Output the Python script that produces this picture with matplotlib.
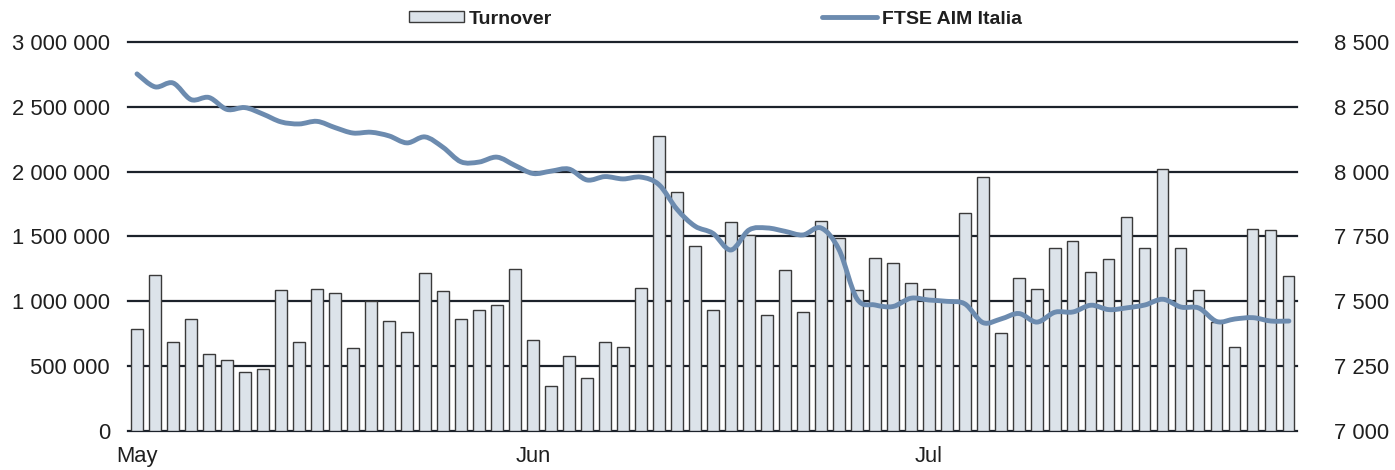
import matplotlib
matplotlib.use("Agg")
import matplotlib.pyplot as plt
from matplotlib.ticker import FuncFormatter
from matplotlib.path import Path
from matplotlib.patches import PathPatch
from matplotlib.lines import Line2D

# ---------------- data ----------------
turnover = [785, 1205, 690, 865, 590, 550, 455, 480, 1090, 685,
            1095, 1064, 640, 1003, 848, 763, 1218, 1080, 864, 933,
            972, 1249, 702, 347, 578, 409, 686, 648, 1103, 2275,
            1843, 1427, 933, 1612, 1515, 895, 1242, 918, 1620, 1488,
            1087, 1334, 1296, 1141, 1095, 1012, 1681, 1959, 756, 1180,
            1095, 1411, 1465, 1226, 1326, 1650, 1411, 2020, 1411, 1087,
            840, 648, 1558, 1550, 1195]
turnover = [v * 1000 for v in turnover]

ftse_aim = [8377, 8327, 8342, 8278, 8286, 8240, 8247, 8222, 8192, 8184,
            8194, 8170, 8149, 8152, 8138, 8111, 8134, 8094, 8038, 8037,
            8056, 8024, 7993, 8002, 8010, 7968, 7981, 7972, 7979, 7950,
            7855, 7790, 7762, 7698, 7775, 7783, 7770, 7756, 7783, 7700,
            7510, 7486, 7480, 7512, 7505, 7500, 7490, 7418, 7432, 7453,
            7420, 7458, 7459, 7485, 7468, 7475, 7486, 7508, 7478, 7474,
            7422, 7432, 7437, 7424, 7424]

month_labels = ["May", "Jun", "Jul"]
month_positions = [0, 22, 44]

left_ticks = [0, 500000, 1000000, 1500000, 2000000, 2500000, 3000000]
right_ticks = [7000, 7250, 7500, 7750, 8000, 8250, 8500]

# ---------------- style ----------------
FONT = ["Liberation Sans", "DejaVu Sans"]
plt.rcParams["font.family"] = FONT
TXT = "#1f1f1f"
BAR_FILL = "#DCE3EA"
BAR_EDGE = "#3a3a3a"
LINE_COL = "#6C8BAF"
GRID_COL = "#1c222b"

W, H = 1395, 470
fig = plt.figure(figsize=(W / 100, H / 100), dpi=100)
ax = fig.add_axes([128 / W, (H - 431) / H, (1297 - 128) / W, (431 - 42) / H])
ax2 = ax.twinx()

x = list(range(len(turnover)))
bars = ax.bar(x, turnover, width=0.62, color=BAR_FILL, edgecolor=BAR_EDGE,
              linewidth=1.0, zorder=2, label="Turnover")

# smoothed line (Excel-like): cubic Bezier segments through every data point
n = len(ftse_aim)
verts = [(x[0], ftse_aim[0])]
codes = [Path.MOVETO]
for i in range(n - 1):
    xp, yp = (x[i - 1], ftse_aim[i - 1]) if i > 0 else (x[i], ftse_aim[i])
    xn2, yn2 = (x[i + 2], ftse_aim[i + 2]) if i + 2 < n else (x[i + 1], ftse_aim[i + 1])
    c1 = (x[i] + (x[i + 1] - xp) / 6.0, ftse_aim[i] + (ftse_aim[i + 1] - yp) / 6.0)
    c2 = (x[i + 1] - (xn2 - x[i]) / 6.0, ftse_aim[i + 1] - (yn2 - ftse_aim[i]) / 6.0)
    verts += [c1, c2, (x[i + 1], ftse_aim[i + 1])]
    codes += [Path.CURVE4, Path.CURVE4, Path.CURVE4]
ax2.add_patch(PathPatch(Path(verts, codes), facecolor="none", edgecolor=LINE_COL,
                        linewidth=3.5, joinstyle="round", capstyle="round", zorder=3))
line_handle = Line2D([], [], color=LINE_COL, linewidth=3.5, solid_capstyle="round")

ax.set_xlim(-0.5, len(turnover) - 0.55)
ax.set_ylim(0, 3000000)
ax2.set_ylim(7000, 8500)

ax.set_yticks(left_ticks)
ax2.set_yticks(right_ticks)

def thousands(v, pos):
    return f"{int(round(v)):,}".replace(",", " ")

ax.yaxis.set_major_formatter(FuncFormatter(thousands))
ax2.yaxis.set_major_formatter(FuncFormatter(thousands))

ax.set_xticks(month_positions)
ax.set_xticklabels(month_labels)

ax.grid(axis="y", color=GRID_COL, linewidth=1.6, zorder=0)
ax.set_axisbelow(True)
ax.grid(axis="x", visible=False)
for gl in ax.get_ygridlines():
    gl.set_clip_on(False)

for a in (ax, ax2):
    for s in a.spines.values():
        s.set_visible(False)

ax.tick_params(axis="y", length=0, pad=13, labelsize=15.8, labelcolor=TXT)
ax2.tick_params(axis="y", length=0, pad=27, labelsize=15.8, labelcolor=TXT)
ax.tick_params(axis="x", length=0, pad=11, labelsize=15.8, labelcolor=TXT)

leg = fig.legend(handles=[bars, line_handle], labels=["Turnover", "FTSE AIM Italia"],
                 loc="center", bbox_to_anchor=(0.513, 1 - 19 / H), ncol=2,
                 frameon=False, handlelength=2.8, handleheight=0.52,
                 columnspacing=13.9, handletextpad=0.26,
                 prop={"family": FONT, "weight": "bold", "size": 14})
for t in leg.get_texts():
    t.set_color(TXT)

fig.savefig("out.png", dpi=100)
